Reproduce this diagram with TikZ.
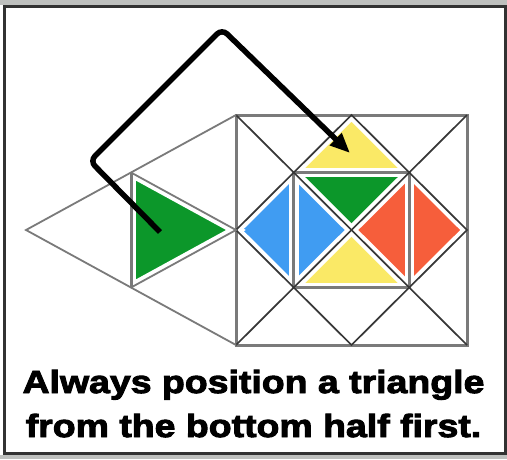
\documentclass[tikz,border=0pt]{standalone}
\usepackage{fontspec}
\newfontfamily\capfont{Liberation Sans}[FakeStretch=1.17,FakeBold=3]
\usetikzlibrary{arrows.meta}
\definecolor{cyel}{RGB}{250,233,102}
\definecolor{cgrn}{RGB}{12,151,42}
\definecolor{cblu}{RGB}{64,156,242}
\definecolor{corg}{RGB}{246,94,59}
\definecolor{csq}{RGB}{122,122,122}
\definecolor{cdg}{RGB}{55,55,55}
\definecolor{cframe}{RGB}{50,50,50}
\definecolor{cstrip}{RGB}{190,192,190}
\tikzset{
  halo/.style={draw=white,line width=9.5pt,line cap=round},
  sqline/.style={draw=csq,line width=3pt},
  dgline/.style={draw=cdg,line width=1.7pt},
  hxline/.style={draw=csq,line width=1.8pt},
  route/.style={draw=black,line width=5.5pt,rounded corners=7pt,-{Triangle[length=20pt,width=16pt]}},
  caption/.style={font=\capfont\bfseries\fontsize{32}{44}\selectfont,anchor=base,inner sep=0pt}
}
\newcommand\gridpaths[3]{%
  \draw[#1] (A) -- (B) -- (C) -- (D) -- cycle;
  \draw[#1] (i1) -- (i2) -- (i3) -- (i4) -- cycle;
  \draw[#1] (h1) -- (h2);
  \draw[#2] (A) -- (C);
  \draw[#2] (B) -- (D);
  \draw[#2] (Mt) -- (Mr) -- (Mb) -- (Ml) -- cycle;
  \draw[#3] (A) -- (L) -- (D);
  \draw[#3] (h1) -- (Ml) -- (h2);
}
\begin{document}
\begin{tikzpicture}[x=1pt,y=-1pt]
\useasboundingbox (0,0) rectangle (507,459);
% frame
\fill[cstrip] (0,0) rectangle (507,5);
\fill[cstrip] (0,455) rectangle (507,459);
\draw[cframe,line width=3pt] (4.5,6.5) rectangle (505,453.5);
% coordinates
\coordinate (A) at (236,115);
\coordinate (B) at (467,115);
\coordinate (C) at (467,345);
\coordinate (D) at (236,345);
\coordinate (O) at (351.5,230);
\coordinate (Mt) at (351.5,115);
\coordinate (Mb) at (351.5,345);
\coordinate (Ml) at (236,230);
\coordinate (Mr) at (467,230);
\coordinate (i1) at (293.75,172.5);
\coordinate (i2) at (409.25,172.5);
\coordinate (i3) at (409.25,287.5);
\coordinate (i4) at (293.75,287.5);
\coordinate (L) at (26,230);
\coordinate (h1) at (131,172.5);
\coordinate (h2) at (131,287.5);
% colour fills
\fill[cyel] (Mt) -- (i1) -- (i2) -- cycle;
\fill[cyel] (O) -- (i4) -- (i3) -- cycle;
\fill[cgrn] (O) -- (i1) -- (i2) -- cycle;
\fill[cgrn] (h1) -- (Ml) -- (h2) -- cycle;
\fill[cblu] (Ml) -- (i1) -- (i4) -- cycle;
\fill[cblu] (O) -- (i1) -- (i4) -- cycle;
\fill[corg] (Mr) -- (i2) -- (i3) -- cycle;
\fill[corg] (O) -- (i2) -- (i3) -- cycle;
% white gaps, then lines
\gridpaths{halo}{halo}{halo}
\gridpaths{sqline}{dgline}{hxline}
% route arrow
\coordinate (r0) at (160,232);
\coordinate (r1) at (90,161);
\coordinate (r2) at (222,29);
\coordinate (r3) at (350,153);
\draw[route] (r0) -- (r1) -- (r2) -- (r3);
% caption
\node[caption] (t1) at (253.5,393) {Always position a triangle};
\node[caption] (t2) at (253.5,437) {from the bottom half first.};
\end{tikzpicture}
\end{document}
